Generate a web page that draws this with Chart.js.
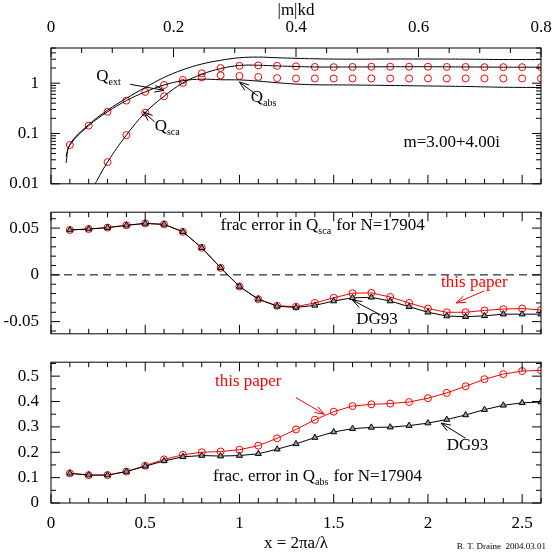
<!DOCTYPE html>
<html>
<head>
<meta charset="utf-8">
<script src="https://cdn.jsdelivr.net/npm/chart.js@4/dist/chart.umd.min.js"></script>
<style>
  body { margin: 0; background: #fff; }
  #wrap { position: relative; width: 554px; height: 554px; }
  canvas { position: absolute; left: 0; }
  #foot { position: absolute; right: 8px; top: 541px; font: 9px 'Liberation Serif'; }
</style>
</head>
<body>
<div id="wrap">
  <canvas id="c1" style="top:0"></canvas>
  <canvas id="c2" style="top:198px"></canvas>
  <canvas id="c3" style="top:348px"></canvas>
  <div id="foot">B. T. Draine&nbsp;&nbsp;2004.03.01</div>
</div>
<script>
const xs = [0.1,0.2,0.3,0.4,0.5,0.6,0.7,0.8,0.9,1.0,1.1,1.2,1.3,1.4,1.5,1.6,1.7,1.8,1.9,2.0,2.1,2.2,2.3,2.4,2.5,2.6];

// top panel: efficiencies
const qabsPts = [0.059,0.143,0.27,0.45,0.67,0.92,1.16,1.3,1.43,1.39,1.33,1.26,1.24,1.24,1.24,1.24,1.24,1.24,1.24,1.24,1.24,1.24,1.24,1.24,1.24,1.24];
const qscaPts = [null,null,0.027,0.093,0.26,0.55,1.01,1.57,2.0,2.21,2.25,2.21,2.16,2.1,2.08,2.1,2.12,2.12,2.12,2.12,2.1,2.1,2.08,2.08,2.08,2.08];
const qextX = [0.08,0.1,0.2,0.3,0.4,0.5,0.6,0.7,0.8,0.9,1.0,1.1,1.2,1.4,1.6,1.8,2.0,2.2,2.4,2.6];
const qextLine = [0.026,0.06,0.15,0.29,0.5,0.82,1.3,1.85,2.4,2.85,3.2,3.3,3.2,3.05,3.0,3.02,3.02,3.0,2.95,2.95];
const qabsX = [0.08,0.1,0.2,0.3,0.4,0.5,0.6,0.7,0.8,0.9,1.0,1.1,1.2,1.3,1.4,1.6,1.8,2.0,2.2,2.4,2.6];
const qabsLine = [0.035,0.059,0.143,0.27,0.45,0.67,0.92,1.12,1.2,1.17,1.16,1.1,1.02,0.96,0.93,0.92,0.9,0.88,0.86,0.83,0.82];
const qscaX = [0.22,0.3,0.4,0.5,0.6,0.7,0.8,0.9,1.0,1.1,1.2,1.4,1.6,1.8,2.0,2.2,2.4,2.6];
const qscaLine = [0.008,0.027,0.093,0.26,0.55,1.01,1.5,1.95,2.25,2.27,2.2,2.1,2.1,2.12,2.12,2.1,2.08,2.08];

// middle panel: frac error in Qsca
const scaThis = [0.048,0.049,0.0505,0.053,0.055,0.054,0.046,0.029,0.0075,-0.0124,-0.026,-0.033,-0.034,-0.030,-0.0245,-0.0196,-0.0193,-0.0237,-0.030,-0.036,-0.040,-0.040,-0.038,-0.0366,-0.036,-0.0375];
const scaDG = [0.048,0.049,0.0505,0.053,0.055,0.054,0.046,0.029,0.0075,-0.0124,-0.026,-0.0335,-0.0348,-0.0326,-0.028,-0.0245,-0.024,-0.028,-0.034,-0.040,-0.044,-0.0447,-0.0438,-0.042,-0.042,-0.042];

// bottom panel: frac error in Qabs
const absThis = [0.117,0.11,0.11,0.124,0.147,0.172,0.19,0.2,0.203,0.21,0.226,0.255,0.29,0.328,0.36,0.382,0.389,0.392,0.398,0.413,0.434,0.46,0.488,0.508,0.52,0.523];
const absDG = [0.117,0.11,0.11,0.124,0.145,0.166,0.182,0.187,0.185,0.187,0.194,0.212,0.233,0.258,0.28,0.293,0.298,0.299,0.305,0.315,0.329,0.347,0.368,0.385,0.395,0.398];

const xTickLabels = [0, 0.5, 1, 1.5, 2, 2.5];
const topTickLabels = [0, 0.2, 0.4, 0.6, 0.8];

const RED = 'rgb(255,0,0)';
const FONT = 'Liberation Serif';
const pts = (x, y) => x.map((v, i) => ({ x: v, y: y[i] })).filter(p => p.y !== null);

// frame with inward ticks, plus text labels and arrows
const framePlugin = {
    id: 'frame',
    afterDraw(chart, args, opts) {
        const { ctx, chartArea: a, scales } = chart;
        const xS = scales.x, yS = scales.y;
        ctx.save();
        ctx.strokeStyle = '#000';
        ctx.lineWidth = 1;
        ctx.strokeRect(a.left, a.top, a.right - a.left, a.bottom - a.top);
        ctx.beginPath();
        for (let i = 0; i <= 26; i++) {
            const px = xS.getPixelForValue(i * 0.1);
            const len = i % 5 === 0 ? 9 : 5;
            ctx.moveTo(px, a.bottom); ctx.lineTo(px, a.bottom - len);
            if (!opts.topTicks) { ctx.moveTo(px, a.top); ctx.lineTo(px, a.top + len); }
        }
        if (opts.topTicks) {
            for (let i = 0; i <= 16; i++) {
                const px = a.left + (a.right - a.left) * i / 16;
                const len = i % 4 === 0 ? 9 : 5;
                ctx.moveTo(px, a.top); ctx.lineTo(px, a.top + len);
            }
        }
        opts.yTicks.forEach(([v, major]) => {
            const py = yS.getPixelForValue(v);
            if (py < a.top - 0.5 || py > a.bottom + 0.5) return;
            const len = major ? 9 : 5;
            ctx.moveTo(a.left, py); ctx.lineTo(a.left + len, py);
            ctx.moveTo(a.right, py); ctx.lineTo(a.right - len, py);
        });
        ctx.stroke();
        ctx.beginPath();
        ctx.rect(a.left, a.top, a.right - a.left, a.bottom - a.top);
        ctx.clip();
        (opts.arrows || []).forEach(ar => {
            const x0 = xS.getPixelForValue(ar.from[0]), y0 = yS.getPixelForValue(ar.from[1]);
            const x1 = xS.getPixelForValue(ar.to[0]), y1 = yS.getPixelForValue(ar.to[1]);
            ctx.strokeStyle = ar.color || '#000';
            ctx.beginPath();
            ctx.moveTo(x0, y0); ctx.lineTo(x1, y1);
            const ang = Math.atan2(y1 - y0, x1 - x0);
            [0.35, -0.35].forEach(d => {
                ctx.moveTo(x1, y1);
                ctx.lineTo(x1 - 10 * Math.cos(ang + d), y1 - 10 * Math.sin(ang + d));
            });
            ctx.stroke();
        });
        (opts.texts || []).forEach(t => {
            let px = xS.getPixelForValue(t.x);
            const py = yS.getPixelForValue(t.y);
            ctx.fillStyle = t.color || '#000';
            ctx.textBaseline = 'alphabetic';
            t.parts.forEach(([s, sub]) => {
                ctx.font = (sub ? 10 : 17) + 'px ' + FONT;
                ctx.fillText(s, px, py + (sub ? 4 : 0));
                px += ctx.measureText(s).width + (sub ? 1 : 0);
            });
        });
        ctx.restore();
    }
};

function fixY(width) { return s => { s.width = width; }; }
function tickFont() { return { family: FONT, size: 17 }; }

function xScale(show, height, title) {
    return {
        type: 'linear', min: 0, max: 2.6, display: show,
        grid: { display: false }, border: { display: false },
        afterFit: s => { if (height) s.height = height; },
        afterBuildTicks: s => { s.ticks = xTickLabels.map(v => ({ value: v })); },
        ticks: { color: '#000', font: tickFont(), padding: 2, autoSkip: false, maxRotation: 0,
                 callback: v => String(v) },
        title: { display: !!title, text: title, color: '#000', font: tickFont(), padding: 0 }
    };
}

function baseOptions(scales, frame) {
    return {
        responsive: false, animation: false,
        layout: { autoPadding: false, padding: { right: 13, left: 0, top: 0, bottom: 0 } },
        plugins: { legend: { display: false }, tooltip: { enabled: false }, frame: frame },
        scales: scales
    };
}

function mk(id, h) {
    const c = document.getElementById(id);
    c.width = 554; c.height = h;
    return c.getContext('2d');
}

const circle = { pointStyle: 'circle', pointRadius: 3.5, pointBackgroundColor: 'rgba(0,0,0,0)', pointBorderWidth: 1 };

// ---------- top ----------
const logTicks = [];
[0.01, 0.1, 1].forEach(d => { for (let k = 1; k <= 9; k++) logTicks.push([d * k, k === 1]); });
new Chart(mk('c1', 198), {
    type: 'scatter',
    data: { datasets: [
        { data: pts(qextX, qextLine), showLine: true, tension: 0.4, borderColor: '#000', borderWidth: 1, pointRadius: 0 },
        { data: pts(qabsX, qabsLine), showLine: true, tension: 0.4, borderColor: '#000', borderWidth: 1, pointRadius: 0 },
        { data: pts(qscaX, qscaLine), showLine: true, tension: 0.4, borderColor: '#000', borderWidth: 1, pointRadius: 0 },
        Object.assign({ data: pts(xs, qabsPts), borderColor: RED, showLine: false }, circle),
        Object.assign({ data: pts(xs, qscaPts), borderColor: RED, showLine: false }, circle)
    ]},
    options: baseOptions({
        x: xScale(false),
        xTop: {
            type: 'linear', position: 'top', min: 0, max: 0.8,
            grid: { display: false }, border: { display: false },
            afterFit: s => { s.height = 48; },
            afterBuildTicks: s => { s.ticks = topTickLabels.map(v => ({ value: v })); },
            ticks: { color: '#000', font: tickFont(), padding: 2, autoSkip: false, maxRotation: 0, callback: v => String(v) },
            title: { display: true, text: '|m|kd', color: '#000', font: tickFont(), padding: 0 }
        },
        y: {
            type: 'logarithmic', min: 0.01, max: 5, afterFit: fixY(51),
            grid: { display: false }, border: { display: false },
            afterBuildTicks: s => { s.ticks = [0.01, 0.1, 1].map(v => ({ value: v })); },
            ticks: { color: '#000', font: tickFont(), padding: 4, callback: v => String(v) }
        }
    }, {
        topTicks: true, yTicks: logTicks,
        texts: [
            { x: 0.24, y: 1.1, parts: [['Q'], ['ext', true]] },
            { x: 1.06, y: 0.42, parts: [['Q'], ['abs', true]] },
            { x: 0.55, y: 0.11, parts: [['Q'], ['sca', true]] },
            { x: 1.87, y: 0.055, parts: [['m=3.00+4.00i']] }
        ],
        arrows: [
            { from: [0.42, 0.95], to: [0.6, 0.72] },
            { from: [1.1, 0.55], to: [1.0, 1.05] },
            { from: [0.55, 0.17], to: [0.49, 0.27] }
        ]
    }),
    plugins: [framePlugin]
});

// ---------- middle ----------
const midTicks = [];
for (let i = -6; i <= 6; i++) midTicks.push([i * 0.01, i % 5 === 0]);
new Chart(mk('c2', 150), {
    type: 'scatter',
    data: { datasets: [
        { data: [{ x: 0, y: 0 }, { x: 2.6, y: 0 }], showLine: true, borderColor: '#000', borderWidth: 1, borderDash: [8, 5], pointRadius: 0 },
        { data: pts(xs, scaDG), showLine: true, borderColor: '#000', borderWidth: 1, pointStyle: 'triangle', pointRadius: 3.5, pointBackgroundColor: '#999', pointBorderColor: '#000' },
        Object.assign({ data: pts(xs, scaThis), showLine: true, borderColor: RED, borderWidth: 1 }, circle)
    ]},
    options: baseOptions({
        x: xScale(false),
        y: {
            min: -0.063, max: 0.067, afterFit: fixY(51),
            grid: { display: false }, border: { display: false },
            afterBuildTicks: s => { s.ticks = [-0.05, 0, 0.05].map(v => ({ value: v })); },
            ticks: { color: '#000', font: tickFont(), padding: 4, callback: v => (v === 0 ? '0' : v.toFixed(2)) }
        }
    }, {
        yTicks: midTicks,
        texts: [
            { x: 0.9, y: 0.048, parts: [['frac error in Q'], ['sca', true], [' for N=17904']] },
            { x: 2.07, y: -0.013, color: RED, parts: [['this paper']] },
            { x: 1.62, y: -0.053, parts: [['DG93']] }
        ],
        arrows: [
            { from: [2.3, -0.017], to: [2.15, -0.03], color: RED },
            { from: [1.75, -0.043], to: [1.6, -0.027] }
        ]
    }),
    plugins: [framePlugin]
});

// ---------- bottom ----------
const botTicks = [];
for (let i = 0; i <= 11; i++) botTicks.push([i * 0.05, i % 2 === 0]);
new Chart(mk('c3', 206), {
    type: 'scatter',
    data: { datasets: [
        { data: pts(xs, absDG), showLine: true, borderColor: '#000', borderWidth: 1, pointStyle: 'triangle', pointRadius: 3.5, pointBackgroundColor: '#999', pointBorderColor: '#000' },
        Object.assign({ data: pts(xs, absThis), showLine: true, borderColor: RED, borderWidth: 1 }, circle)
    ]},
    options: baseOptions({
        x: xScale(true, 51, 'x = 2πa/λ'),
        y: {
            min: 0, max: 0.555, afterFit: fixY(51),
            grid: { display: false }, border: { display: false },
            afterBuildTicks: s => { s.ticks = [0, 0.1, 0.2, 0.3, 0.4, 0.5].map(v => ({ value: v })); },
            ticks: { color: '#000', font: tickFont(), padding: 4, callback: v => String(+v.toFixed(1)) }
        }
    }, {
        yTicks: botTicks,
        texts: [
            { x: 0.87, y: 0.463, color: RED, parts: [['this paper']] },
            { x: 2.1, y: 0.21, parts: [['DG93']] },
            { x: 0.86, y: 0.085, parts: [['frac. error in Q'], ['abs', true], [' for N=17904']] }
        ],
        arrows: [
            { from: [1.3, 0.415], to: [1.45, 0.35], color: RED },
            { from: [2.2, 0.255], to: [2.07, 0.315] }
        ]
    }),
    plugins: [framePlugin]
});
</script>
</body>
</html>
